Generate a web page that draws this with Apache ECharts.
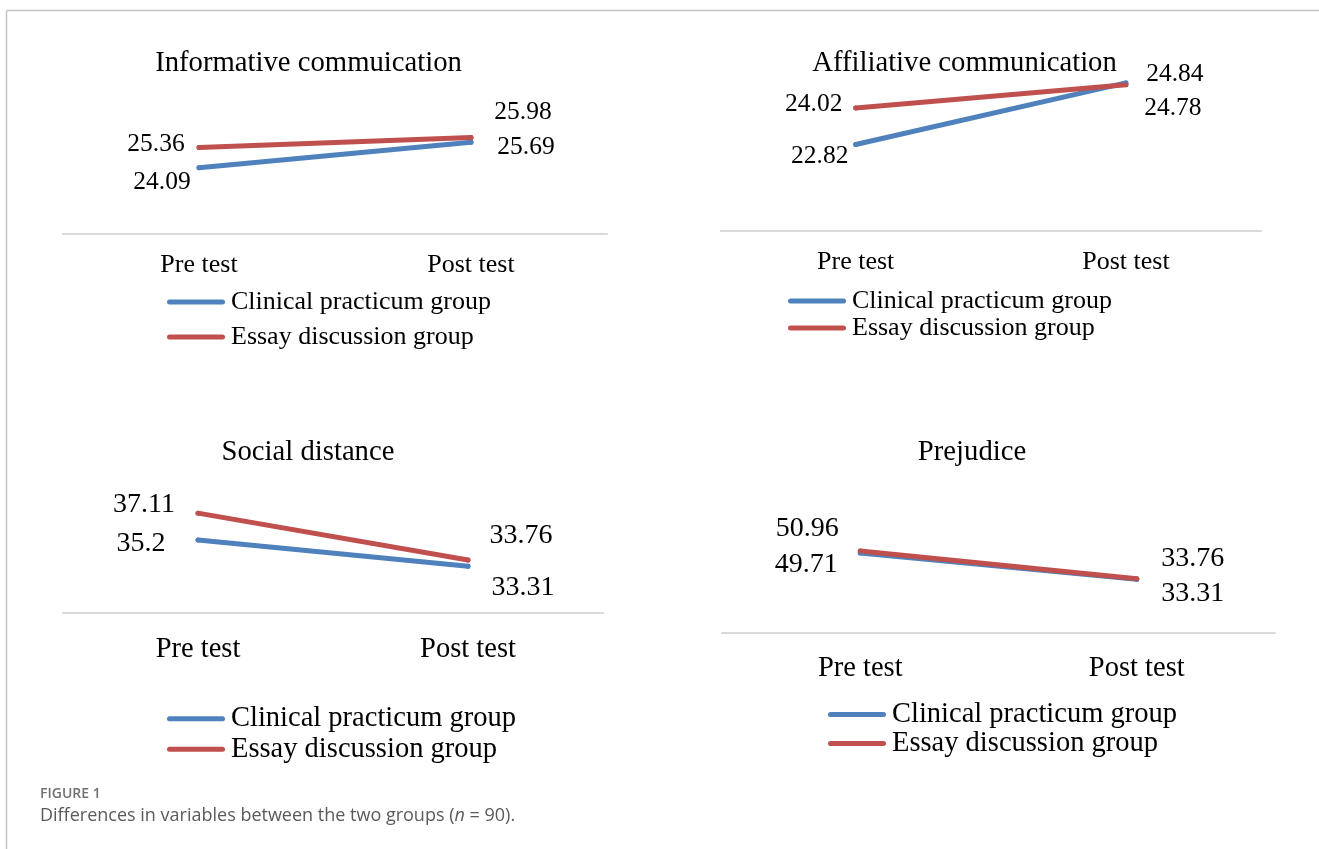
<!DOCTYPE html>
<html>
<head>
<meta charset="utf-8">
<script src="https://cdn.jsdelivr.net/npm/echarts@6/dist/echarts.min.js"></script>
<style>
html,body{margin:0;padding:0;background:#fff;}
#chart{width:1319px;height:849px;}
</style>
</head>
<body>
<div id="chart"></div>
<script>
// ---- data ----
const categories = ['Pre test', 'Post test'];
const seriesNames = ['Clinical practicum group', 'Essay discussion group'];
const panelTitles = ['Informative commuication', 'Affiliative communication', 'Social distance', 'Prejudice'];
const infoClinical = [24.09, 25.69];
const infoEssay = [25.36, 25.98];
const affClinical = [22.82, 24.84];
const affEssay = [24.02, 24.78];
const socClinical = [35.2, 33.31];
const socEssay = [37.11, 33.76];
const prejClinical = [49.71, 33.31];
const prejEssay = [50.96, 33.76];
const captionLabel = 'FIGURE 1';
const captionText = 'Differences in variables between the two groups ({i|n} = 90).';

// ---- layout / style ----
const BLUE = '#4f81bd', RED = '#c0504d';
const SERIF = 'Liberation Serif';
const panels = [
  { clin: infoClinical, ess: infoEssay, grid: {left: 63, width: 544, top: 121.3, height: 112}, yMin: 20, yMax: 27,
    titleX: 308.5, titleY: 63, titleSize: 28.7, labelSize: 25.5, catSize: 26, catMargin: 19,
    clinOff: [[-37, 14], [55, 5]], essOff: [[-43, -3], [52, -25]],
    legend: {left: 167, top: 289, font: 26, lh: 26, gap: 9} },
  { clin: affClinical, ess: affEssay, grid: {left: 720.6, width: 540.4, top: 78, height: 152.5}, yMin: 20, yMax: 25,
    titleX: 964.5, titleY: 63, titleSize: 28.7, labelSize: 25.5, catSize: 26, catMargin: 19,
    clinOff: [[-36, 11.5], [49, -9]], essOff: [[-42, -4], [47, 24]],
    legend: {left: 788, top: 288, font: 26, lh: 26, gap: 1} },
  { clin: socClinical, ess: socEssay, grid: {left: 63, width: 540, top: 472.7, height: 140}, yMin: 30, yMax: 40,
    titleX: 308, titleY: 452, titleSize: 28.7, labelSize: 28, catSize: 28.5, catMargin: 22,
    clinOff: [[-57, 3.6], [55, 21]], essOff: [[-54, -9], [53, -24]],
    legend: {left: 167, top: 704.25, font: 28.5, lh: 28.5, gap: 1.5} },
  { clin: prejClinical, ess: prejEssay, grid: {left: 722, width: 553, top: 536.4, height: 96.6}, yMin: 0, yMax: 60,
    titleX: 972, titleY: 452, titleSize: 28.7, labelSize: 28, catSize: 28.5, catMargin: 21,
    clinOff: [[-54, 12], [56, 14]], essOff: [[-53, -22], [56, -20]],
    legend: {left: 828, top: 700, font: 28.5, lh: 28, gap: 0} }
];

const capsule = 'path://M2.5,0H55.5A2.5,2.5,0,0,1,55.5,5H2.5A2.5,2.5,0,0,1,2.5,0Z';

const grids = [], xAxes = [], yAxes = [], series = [], legends = [], graphics = [];
panels.forEach((p, i) => {
  grids.push(Object.assign({containLabel: false}, p.grid));
  xAxes.push({
    type: 'category', gridIndex: i, data: categories, boundaryGap: true,
    axisLine: {show: true, onZero: false, lineStyle: {color: '#d9d9d9', width: 2}},
    axisTick: {show: false}, splitLine: {show: false},
    axisLabel: {color: '#000', fontFamily: SERIF, fontSize: p.catSize, margin: p.catMargin, interval: 0}
  });
  yAxes.push({type: 'value', gridIndex: i, min: p.yMin, max: p.yMax, show: false, splitLine: {show: false}});
  const mk = (name, vals, color, offs) => ({
    name: name, type: 'line', xAxisIndex: i, yAxisIndex: i,
    data: vals.map((v, j) => ({value: v, label: {offset: offs[j]}})),
    symbol: 'circle', symbolSize: 5, showSymbol: true,
    itemStyle: {color: color},
    lineStyle: {color: color, width: 5, cap: 'round'},
    label: {show: true, position: 'inside', align: 'center', verticalAlign: 'middle',
      color: '#000', fontFamily: SERIF, fontSize: p.labelSize},
    emphasis: {disabled: true}, silent: true, animation: false
  });
  series.push(mk(seriesNames[0], p.clin, BLUE, p.clinOff));
  series.push(mk(seriesNames[1], p.ess, RED, p.essOff));
  legends.push({
    data: seriesNames, orient: 'vertical', left: p.legend.left, top: p.legend.top, padding: 0,
    itemGap: p.legend.gap, itemWidth: 58, itemHeight: 5, icon: capsule, selectedMode: false,
    textStyle: {color: '#000', fontFamily: SERIF, fontSize: p.legend.font, lineHeight: p.legend.lh, padding: [0, 0, 0, 1]}
  });
  graphics.push({
    type: 'text', x: p.titleX, y: p.titleY, silent: true,
    style: {text: panelTitles[i], fill: '#000', font: p.titleSize + 'px "' + SERIF + '"', align: 'center', verticalAlign: 'middle'}
  });
});

// frame and caption
graphics.push({type: 'line', silent: true, shape: {x1: 6.5, y1: 10.5, x2: 1319, y2: 10.5}, style: {stroke: '#c4c4c4', lineWidth: 1.5}});
graphics.push({type: 'line', silent: true, shape: {x1: 6.5, y1: 10.5, x2: 6.5, y2: 849}, style: {stroke: '#c4c4c4', lineWidth: 1.5}});
graphics.push({type: 'text', x: 40, y: 794, silent: true,
  style: {text: captionLabel, fill: '#707070', font: '600 14px "Open Sans"', align: 'left', verticalAlign: 'middle'}});
graphics.push({type: 'text', x: 40, y: 816, silent: true,
  style: {text: captionText, fill: '#5a5a5a', font: '18px "Open Sans"', align: 'left', verticalAlign: 'middle',
    rich: {i: {fontStyle: 'italic', fontFamily: 'Open Sans', fontSize: 18, fill: '#5a5a5a'}}}});

const chart = echarts.init(document.getElementById('chart'), null, {renderer: 'canvas'});
chart.setOption({
  backgroundColor: '#fff',
  animation: false,
  grid: grids, xAxis: xAxes, yAxis: yAxes, series: series, legend: legends, graphic: graphics
});
</script>
</body>
</html>
